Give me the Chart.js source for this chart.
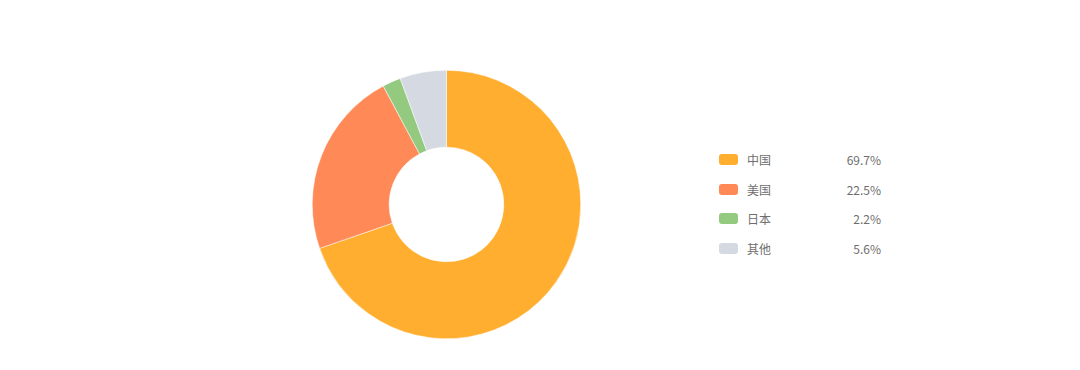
<!DOCTYPE html>
<html>
<head>
<meta charset="utf-8">
<script src="https://cdn.jsdelivr.net/npm/chart.js@4/dist/chart.umd.min.js"></script>
<style>
  html, body { margin: 0; padding: 0; background: #ffffff; }
  body { width: 1080px; height: 370px; position: relative; overflow: hidden;
         font-family: "Noto Sans CJK SC", "Noto Sans", sans-serif; }
  #wrap { position: absolute; left: 312px; top: 70px; width: 269px; height: 269px; }
  #legend { position: absolute; left: 719px; top: 145px; width: 162px; }
  .row { position: relative; height: 29.5px; display: flex; align-items: center; }
  .sw { width: 19px; height: 11px; border-radius: 3px; flex: none; }
  .lab { margin-left: 9px; font-size: 12px; color: #6e6e6e; flex: 1; }
  .val { font-size: 12px; color: #6e6e6e; text-align: right; }
</style>
</head>
<body>
<div id="wrap"><canvas id="c" width="269" height="269"></canvas></div>
<div id="legend"></div>
<script>
const categories = ["中国", "美国", "日本", "其他"];
const shares = [69.7, 22.5, 2.2, 5.6];
const shareLabels = ["69.7%", "22.5%", "2.2%", "5.6%"];
const colors = ["#FFAE2F", "#FF8A57", "#94C980", "#D5D9E1"];

new Chart(document.getElementById("c"), {
  type: "doughnut",
  data: {
    labels: categories,
    datasets: [{
      data: shares,
      backgroundColor: colors,
      borderColor: "#ffffff",
      borderWidth: 0.5,
      hoverOffset: 0
    }]
  },
  options: {
    responsive: false,
    animation: false,
    cutout: "42.7%",
    layout: { padding: 0 },
    plugins: { legend: { display: false }, tooltip: { enabled: false } }
  }
});

const legend = document.getElementById("legend");
categories.forEach((name, i) => {
  const row = document.createElement("div");
  row.className = "row";
  row.innerHTML = '<span class="sw" style="background:' + colors[i] + '"></span>' +
    '<span class="lab">' + name + '</span>' +
    '<span class="val">' + shareLabels[i] + '</span>';
  legend.appendChild(row);
});
</script>
</body>
</html>
